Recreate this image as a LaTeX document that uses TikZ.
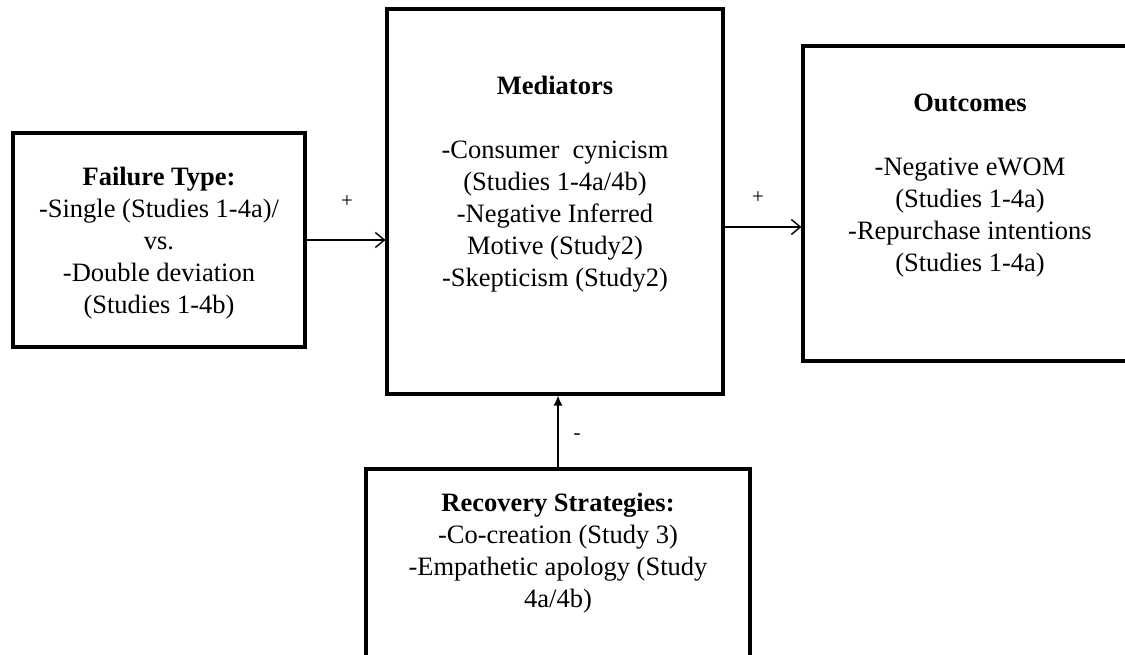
\documentclass[tikz,border=0pt]{standalone}
\usepackage{fontspec}
\setmainfont{Liberation Serif}
\usetikzlibrary{arrows.meta}
\newcommand{\panelfont}{\fontsize{26.5}{32}\selectfont}
\newcommand{\signfont}{\fontsize{21}{23}\selectfont}

\begin{document}
\begin{tikzpicture}[x=1pt, y=-1pt,
  panel/.style={draw, rectangle, line width=3.1pt, inner sep=0pt},
  paneltext/.style={align=center, font=\panelfont, inner sep=0pt},
  link/.style={line width=1.4pt, -{Straight Barb[length=9pt, width=15pt]}},
  uplink/.style={line width=1.4pt, -{Latex[length=10pt, width=9pt]}},
  sign/.style={font=\signfont, inner sep=0pt}]

  \useasboundingbox (0,0) rectangle (1125,655);
  \clip (0,0) rectangle (1125,655);

  % boxes
  \node[panel, minimum width=292pt, minimum height=214pt] (failure) at (159,240) {};
  \node[panel, minimum width=336pt, minimum height=385pt] (mediators) at (555,201.5) {};
  \node[panel, minimum width=334pt, minimum height=315pt] (outcomes) at (970,203.5) {};
  \node[panel, minimum width=384pt, minimum height=251pt] (recovery) at (558,594.5) {};

  % texts
  \node[paneltext] (failuretext) at (159,243) {\textbf{Failure Type:}\\
    -Single (Studies 1-4a)/\\ vs.\\ -Double deviation\\ (Studies 1-4b)};
  \node[paneltext] (mediatorstext) at (555,184) {\textbf{Mediators}\\[32pt]
    -Consumer\ \ cynicism\\ (Studies 1-4a/4b)\\ -Negative Inferred\\
    Motive (Study2)\\ -Skepticism (Study2)};
  \node[paneltext] (outcomestext) at (970,186) {\textbf{Outcomes}\\[32pt]
    -Negative eWOM\\ (Studies 1-4a)\\ -Repurchase intentions\\ (Studies 1-4a)};
  \node[paneltext] (recoverytext) at (558,553) {\textbf{Recovery Strategies:}\\
    -Co-creation (Study 3)\\ -Empathetic apology (Study\\ 4a/4b)};

  % connectors
  \draw[link] (failure.east) -- (failure.east -| mediators.west);
  \draw[link] ([yshift=-25.5pt]mediators.east) coordinate (medout)
    -- (medout -| outcomes.west);
  \draw[uplink] (recovery.north) -- (recovery.north |- mediators.south);

  \node[sign] (plusleft) at (347,202) {+};
  \node[sign] (plusright) at (758,198) {+};
  \node[sign] (minus) at (577,437) {-};

\end{tikzpicture}
\end{document}
